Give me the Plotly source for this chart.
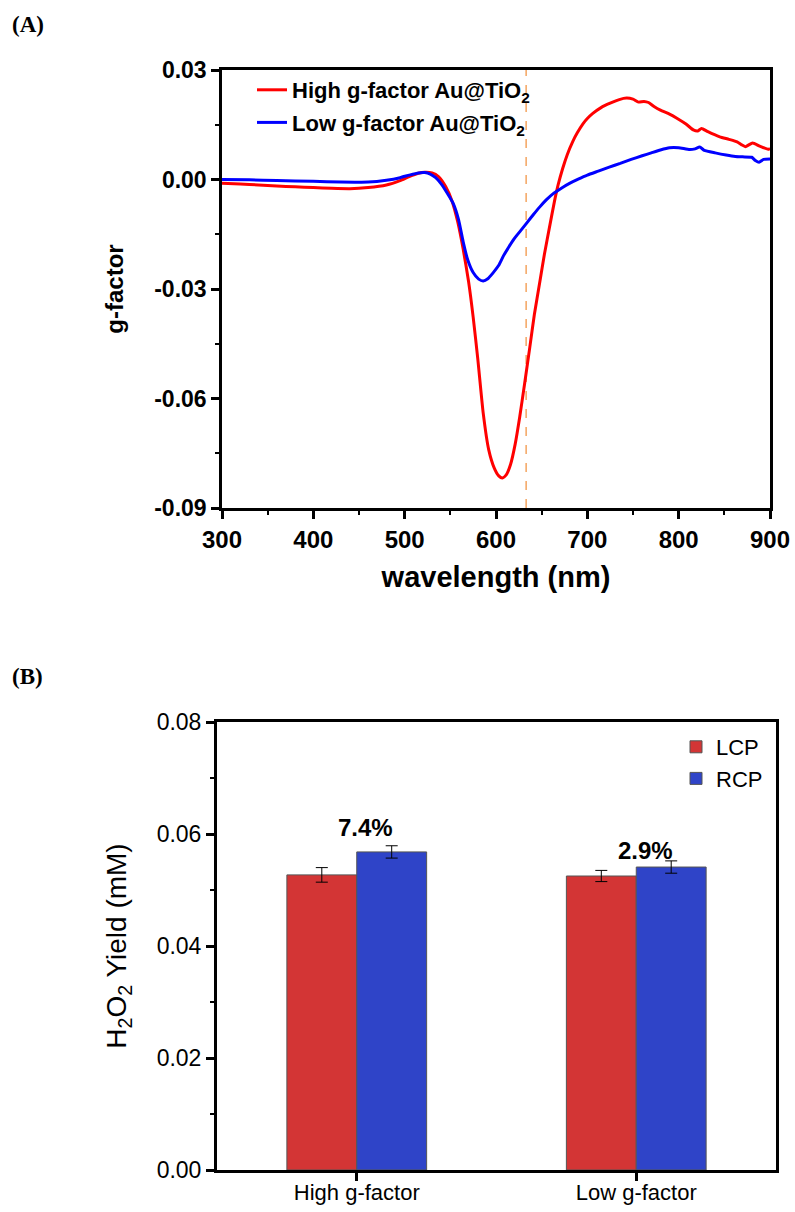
import plotly.graph_objects as go

# ---------------- Panel A data ----------------
wl_high = [300, 320, 340, 360, 380, 400, 420, 440, 460, 480, 495, 505, 515, 522, 530, 537,
           545, 552, 558, 564, 570, 575, 580, 586, 592, 598, 603, 607, 611, 616, 621, 626,
           631, 637, 642, 648, 653, 659, 664, 668, 673, 678, 684, 689, 695, 700, 706, 715,
           725, 735, 743, 750, 756, 762, 767, 773, 780, 790, 798, 808, 816, 821, 825, 832,
           845, 855, 864, 869, 873, 881, 888, 893, 898, 900]
g_high = [-0.0010, -0.0012, -0.0015, -0.0018, -0.0020, -0.0022, -0.0024, -0.0025, -0.0022,
          -0.0015, -0.0003, 0.0008, 0.0017, 0.0020, 0.0018, 0.0008,
          -0.0020, -0.0060, -0.0115, -0.0190, -0.0280, -0.0377, -0.0490, -0.0640, -0.0740,
          -0.0790, -0.0812, -0.0818, -0.0810, -0.0780, -0.0725, -0.0650,
          -0.0565, -0.0460, -0.0370, -0.0280, -0.0205, -0.0125, -0.0060, -0.0015, 0.0030,
          0.0068, 0.0104, 0.0128, 0.0152, 0.0167, 0.0181, 0.0197,
          0.0209, 0.0219, 0.0223, 0.0220, 0.0212, 0.0214, 0.0211, 0.0200, 0.0190, 0.0179,
          0.0168, 0.0152, 0.0136, 0.0133, 0.0140, 0.0131,
          0.0117, 0.0110, 0.0103, 0.0095, 0.0090, 0.0100, 0.0092, 0.0087, 0.0083, 0.0085]

wl_low = [300, 330, 360, 400, 430, 460, 480, 495, 505, 515, 522, 528, 534, 540, 546, 553,
          559, 564, 569, 575, 581, 586, 591, 597, 603, 608, 614, 620, 627, 634, 641, 648,
          655, 663, 672, 681, 690, 700, 712, 724, 736, 748, 760, 770, 780, 790, 800, 812,
          818, 823, 828, 840, 852, 862, 870, 880, 884, 888, 893, 900]
g_low = [0.0000, -0.0001, -0.0003, -0.0005, -0.0007, -0.0007, -0.0002, 0.0005, 0.0012,
         0.0018, 0.0019, 0.0015, 0.0005, -0.0012, -0.0035, -0.0065,
         -0.0110, -0.0170, -0.0220, -0.0255, -0.0273, -0.0278, -0.0272, -0.0255, -0.0235,
         -0.0210, -0.0185, -0.0162, -0.0140, -0.0118, -0.0096, -0.0075,
         -0.0056, -0.0038, -0.0023, -0.0010, 0.0001, 0.0012, 0.0023, 0.0034, 0.0044,
         0.0055, 0.0065, 0.0073, 0.0081, 0.0087, 0.0087, 0.0082,
         0.0084, 0.0089, 0.0080, 0.0073, 0.0067, 0.0063, 0.0062, 0.0061, 0.0052, 0.0047,
         0.0055, 0.0056]

LASER_NM = 633

a_xticks = [300, 400, 500, 600, 700, 800, 900]
a_yticks = [-0.09, -0.06, -0.03, 0.00, 0.03]
a_yticktext = ["-0.09", "-0.06", "-0.03", "0.00", "0.03"]

# ---------------- Panel B data ----------------
categories = ["High g-factor", "Low g-factor"]
lcp = [0.0527, 0.0525]
lcp_err = [0.0013, 0.0010]
rcp = [0.0568, 0.0541]
rcp_err = [0.0011, 0.0011]
enh_labels = ["7.4%", "2.9%"]
enh_y = [0.0611, 0.0571]

b_yticks = [0.00, 0.02, 0.04, 0.06, 0.08]
b_yticktext = ["0.00", "0.02", "0.04", "0.06", "0.08"]

FONT = "Liberation Sans, Arial, sans-serif"
SERIF = "Liberation Serif, Times New Roman, serif"

fig = go.Figure()

fig.add_trace(go.Scatter(
    x=wl_high, y=g_high, mode="lines",
    line=dict(color="#ff0000", width=3, shape="spline", smoothing=0.5),
    name="High g-factor Au@TiO<sub>2</sub>", xaxis="x", yaxis="y",
    legend="legend", legendgroup="a1"))
fig.add_trace(go.Scatter(
    x=wl_low, y=g_low, mode="lines",
    line=dict(color="#0000ff", width=3, shape="spline", smoothing=0.5),
    name="Low g-factor Au@TiO<sub>2</sub>", xaxis="x", yaxis="y",
    legend="legend", legendgroup="a2"))

fig.add_shape(type="line", xref="x", yref="y domain", x0=LASER_NM, x1=LASER_NM,
              y0=0, y1=1, line=dict(color="#F4A460", width=1.5, dash="dash"), layer="below")

fig.add_trace(go.Bar(
    x=categories, y=lcp, name="LCP", xaxis="x2", yaxis="y2", legend="legend2",
    legendgroup="b1",
    marker=dict(color="#d33535", line=dict(color="#555555", width=1)),
    error_y=dict(type="data", array=lcp_err, color="black", thickness=1, width=6)))
fig.add_trace(go.Bar(
    x=categories, y=rcp, name="RCP", xaxis="x2", yaxis="y2", legend="legend2",
    legendgroup="b2",
    marker=dict(color="#2f44c8", line=dict(color="#555555", width=1)),
    error_y=dict(type="data", array=rcp_err, color="black", thickness=1, width=6)))

for lab, yv, cat in zip(enh_labels, enh_y, categories):
    fig.add_annotation(x=cat, y=yv, xref="x2", yref="y2", text=lab, showarrow=False,
                       xshift=9, yanchor="middle",
                       font=dict(family=FONT, size=24, color="black", weight="bold"))

fig.add_annotation(x=10 / 795, y=1 - 10 / 1212, xref="paper", yref="paper", text="(A)",
                   showarrow=False, xanchor="left", yanchor="top",
                   font=dict(family=SERIF, size=23, color="black", weight="bold"))
fig.add_annotation(x=10 / 795, y=1 - 662 / 1212, xref="paper", yref="paper", text="(B)",
                   showarrow=False, xanchor="left", yanchor="top",
                   font=dict(family=SERIF, size=23, color="black", weight="bold"))

fig.update_layout(
    width=795, height=1212, margin=dict(l=0, r=0, t=0, b=0, autoexpand=False),
    paper_bgcolor="white", plot_bgcolor="white",
    barmode="group", bargap=0.5, bargroupgap=0,
    xaxis=dict(domain=[222 / 795, 770 / 795], anchor="y", range=[300, 900],
               automargin=False,
               tickmode="array", tickvals=a_xticks,
               ticks="outside", ticklen=8, tickwidth=2.5, tickcolor="black",
               linecolor="black", linewidth=2.5, mirror=True,
               showgrid=False, zeroline=False,
               minor=dict(dtick=50, tick0=300, ticks="outside", ticklen=4, tickwidth=2,
                          tickcolor="black", showgrid=False),
               tickfont=dict(family=FONT, size=24, color="black", weight="bold"),
               title=dict(text="wavelength (nm)", standoff=16,
                          font=dict(family=FONT, size=29, color="black", weight="bold"))),
    yaxis=dict(domain=[1 - 508 / 1212, 1 - 70 / 1212], anchor="x", range=[-0.09, 0.03],
               automargin=False,
               tickmode="array", tickvals=a_yticks, ticktext=a_yticktext,
               ticks="outside", ticklen=8, tickwidth=2.5, tickcolor="black",
               linecolor="black", linewidth=2.5, mirror=True,
               showgrid=False, zeroline=False,
               minor=dict(dtick=0.015, tick0=-0.09, ticks="outside", ticklen=4, tickwidth=2,
                          tickcolor="black", showgrid=False),
               tickfont=dict(family=FONT, size=23, color="black", weight="bold"),
               title=dict(text="g-factor", standoff=24,
                          font=dict(family=FONT, size=24, color="black", weight="bold"))),
    xaxis2=dict(domain=[217 / 795, 776 / 795], anchor="y2", type="category",
                range=[-0.5, 1.5], automargin=False,
                ticks="outside", ticklen=8, tickwidth=2.5, tickcolor="black",
                linecolor="black", linewidth=3, mirror=True,
                showgrid=False, zeroline=False, ticklabelstandoff=-7,
                tickfont=dict(family=FONT, size=22, color="black")),
    yaxis2=dict(domain=[1 - 1170 / 1212, 1 - 722 / 1212], anchor="x2", range=[0, 0.08],
                automargin=False,
                tickmode="array", tickvals=b_yticks, ticktext=b_yticktext,
                ticks="outside", ticklen=8, tickwidth=2.5, tickcolor="black",
                linecolor="black", linewidth=3, mirror=True,
                showgrid=False, zeroline=False,
                minor=dict(dtick=0.01, tick0=0, ticks="outside", ticklen=4, tickwidth=2,
                           tickcolor="black", showgrid=False),
                tickfont=dict(family=FONT, size=23, color="black"),
                title=dict(text="H<sub>2</sub>O<sub>2</sub> Yield (mM)", standoff=22,
                           font=dict(family=FONT, size=28, color="black"))),
    legend=dict(x=252 / 795, y=1 - 69 / 1212, xanchor="left", yanchor="top",
                bgcolor="rgba(0,0,0,0)", traceorder="grouped", tracegroupgap=1,
                font=dict(family=FONT, size=22, color="black", weight="bold")),
    legend2=dict(x=676 / 795, y=1 - 726 / 1212, xanchor="left", yanchor="top",
                 bgcolor="rgba(0,0,0,0)", traceorder="grouped", tracegroupgap=0,
                 font=dict(family=FONT, size=22, color="black")),
    showlegend=True,
)

fig.write_html("out.html")
